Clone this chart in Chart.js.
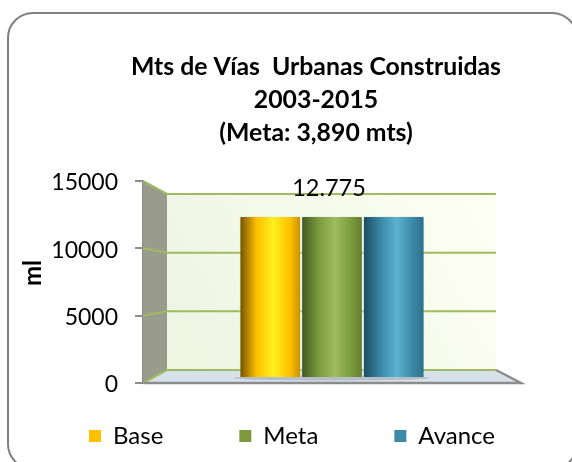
<!DOCTYPE html>
<html>
<head>
<meta charset="utf-8">
<title>Mts de Vías Urbanas Construidas</title>
<script src="https://cdn.jsdelivr.net/npm/chart.js@4"></script>
<style>
  html, body { margin: 0; padding: 0; width: 572px; height: 462px; overflow: hidden; background: #fff; }
  #frame { position: absolute; left: 7px; top: 12px; width: 567px; height: 454px; border: 2px solid #808080; border-radius: 26px; }
  #mainChart { position: absolute; left: 0; top: 0; }
</style>
</head>
<body>
<div id="frame"></div>
<canvas id="mainChart" width="572" height="462"></canvas>
<script>
const categories = [''];
const seriesNames = ['Base', 'Meta', 'Avance'];
const baseValues = [12775];
const metaValues = [12775];
const avanceValues = [12775];
const yTicks = [0, 5000, 10000, 15000];
const valueLabel = '12.775';
const titleLines = ['Mts de Vías  Urbanas Construidas', '2003-2015', '(Meta: 3,890 mts)'];
const yTitle = 'ml';

const FONT = 'Lato, Carlito, sans-serif';
const solid = ['#ffc000', '#7a9a3c', '#3a8aa8'];
// left edge, mid, highlight, right edge colours of each cylinder
const shades = [
  ['#6b4e00', '#ffc000', '#fff01e', '#c08f00'],
  ['#3f5422', '#7a9a3c', '#9fbc5e', '#5f7a30'],
  ['#1c4a5e', '#3a86a4', '#5cb4d0', '#2c6f8a']
];
const CAT_PCT = 0.49, BAR_PCT = 1;
const DEPTH_L = 24, DEPTH_R = 25;
const LEGEND_PAD = 76;

function cylinder(c) {
  const i = c.datasetIndex;
  const x = c.chart.scales && c.chart.scales.x;
  if (c.type !== 'data' || !x || !c.chart.chartArea) return solid[i];
  const w = x.width * CAT_PCT * BAR_PCT / 3;
  const left = x.getPixelForValue(0) - 1.5 * w + i * w;
  const g = c.chart.ctx.createLinearGradient(left, 0, left + w, 0);
  const s = shades[i];
  g.addColorStop(0, s[0]);
  g.addColorStop(0.28, s[1]);
  g.addColorStop(0.55, s[2]);
  g.addColorStop(0.82, s[1]);
  g.addColorStop(1, s[3]);
  return g;
}

const walls = {
  id: 'walls',
  beforeDatasetsDraw(chart) {
    const { ctx, chartArea, scales } = chart;
    const yF = scales.y, yB = scales.yBack;
    const l = chartArea.left, r = chartArea.right;
    const bl = l + DEPTH_L, br = r - DEPTH_R;
    const top = yTicks[yTicks.length - 1];
    const poly = (pts, fill) => {
      ctx.beginPath();
      pts.forEach((p, i) => i ? ctx.lineTo(p[0], p[1]) : ctx.moveTo(p[0], p[1]));
      ctx.closePath();
      ctx.fillStyle = fill;
      ctx.fill();
    };
    ctx.save();
    // back wall
    const bg = ctx.createLinearGradient(bl, yB.getPixelForValue(0), br, yB.getPixelForValue(top));
    bg.addColorStop(0, '#edf4e2');
    bg.addColorStop(1, '#fdfff2');
    poly([[bl, yB.getPixelForValue(top)], [br, yB.getPixelForValue(top)], [br, yB.getPixelForValue(0)], [bl, yB.getPixelForValue(0)]], bg);
    // side wall
    poly([[l, yF.getPixelForValue(top)], [bl, yB.getPixelForValue(top)], [bl, yB.getPixelForValue(0)], [l, yF.getPixelForValue(0)]], '#999b8d');
    // floor
    poly([[l, yF.getPixelForValue(0)], [bl, yB.getPixelForValue(0)], [br, yB.getPixelForValue(0)], [r, yF.getPixelForValue(0)]], '#d7e1ea');
    // grid lines on both walls
    ctx.strokeStyle = '#9dbb61';
    ctx.lineWidth = 2;
    yTicks.forEach(v => {
      ctx.beginPath();
      ctx.moveTo(l, yF.getPixelForValue(v));
      ctx.lineTo(bl, yB.getPixelForValue(v));
      ctx.lineTo(br, yB.getPixelForValue(v));
      ctx.stroke();
    });
    // floor front and right edge
    ctx.strokeStyle = '#8c8c8c';
    ctx.lineWidth = 2.5;
    ctx.beginPath();
    ctx.moveTo(l, yF.getPixelForValue(0));
    ctx.lineTo(r, yF.getPixelForValue(0));
    ctx.lineTo(br, yB.getPixelForValue(0));
    ctx.stroke();
    // soft shadow of the bars on the floor
    const cx = scales.x.getPixelForValue(0);
    const halfW = scales.x.width * CAT_PCT / 2;
    ctx.fillStyle = 'rgba(120,125,135,0.35)';
    ctx.beginPath();
    ctx.ellipse(cx, scales.yBar.getPixelForValue(0) + 1, halfW + 6, 2.5, 0, 0, Math.PI * 2);
    ctx.fill();
    ctx.restore();
  },
  afterDatasetsDraw(chart) {
    const { ctx, chartArea, scales } = chart;
    ctx.save();
    ctx.fillStyle = '#000';
    // value label
    ctx.font = '23.5px ' + FONT;
    ctx.textAlign = 'center';
    ctx.textBaseline = 'middle';
    ctx.fillText(valueLabel, scales.x.getPixelForValue(0) - 3, scales.y.getPixelForValue(15000) + 7);
    // axis title
    ctx.translate(33, (chartArea.top + chartArea.bottom) / 2 - 9);
    ctx.rotate(-Math.PI / 2);
    ctx.font = 'bold 24px ' + FONT;
    ctx.fillText(yTitle, 0, 0);
    ctx.restore();
  }
};

const placeBoxes = {
  id: 'placeBoxes',
  afterLayout(chart) {
    // the title and legend are not centred on the canvas in the original
    const t = chart.titleBlock;
    t.left += 30; t.right += 30;
    const lg = chart.legend;
    lg.left += 6; lg.right += 6;
    lg.top = 424 - LEGEND_PAD;
    lg.bottom = 462;
  }
};

function dataset(label, values) {
  return {
    label: label,
    data: values,
    yAxisID: 'yBar',
    backgroundColor: cylinder,
    borderColor: 'rgba(225,232,238,0.45)',
    borderWidth: 1,
    borderRadius: 2,
    categoryPercentage: CAT_PCT,
    barPercentage: BAR_PCT
  };
}

new Chart(document.getElementById('mainChart'), {
  type: 'bar',
  data: {
    labels: categories,
    datasets: [
      dataset(seriesNames[0], baseValues),
      dataset(seriesNames[1], metaValues),
      dataset(seriesNames[2], avanceValues)
    ]
  },
  plugins: [walls, placeBoxes],
  options: {
    responsive: false,
    animation: false,
    plugins: {
      tooltip: { enabled: false },
      title: {
        display: true,
        text: titleLines,
        color: '#000',
        font: { family: FONT, size: 24.8, weight: 'bold', lineHeight: 1.33 },
        padding: { top: 51, bottom: 31 }
      },
      legend: {
        position: 'bottom',
        maxHeight: 79,
        labels: {
          color: '#000',
          font: { family: FONT, size: 24 },
          boxWidth: 12,
          boxHeight: 12,
          padding: LEGEND_PAD,
          generateLabels: () => seriesNames.map((name, i) => ({
            text: name,
            fillStyle: solid[i],
            strokeStyle: solid[i],
            lineWidth: 0,
            datasetIndex: i
          }))
        }
      }
    },
    scales: {
      x: { display: false },
      y: {
        min: 0,
        max: 15000,
        afterBuildTicks(axis) { axis.ticks = yTicks.map(v => ({ value: v })); },
        afterFit(axis) { axis.width = 143; },
        border: { color: '#8c8c8c', width: 2 },
        grid: { drawOnChartArea: false, color: '#8c8c8c', tickLength: 8, lineWidth: 2 },
        ticks: {
          color: '#000',
          font: { family: FONT, size: 23 },
          padding: 17,
          labelOffset: 2,
          callback: v => String(v)
        }
      },
      // same chart area, but at the plane where the bars stand
      yBar: { display: false, min: -476, max: 15552 },
      // plane of the back wall, keeps the margin right of the floor
      yBack: {
        position: 'right',
        min: -1108,
        max: 16108,
        afterFit(axis) { axis.width = 51; },
        border: { display: false },
        grid: { display: false },
        ticks: { display: false }
      }
    }
  }
});
</script>
</body>
</html>
